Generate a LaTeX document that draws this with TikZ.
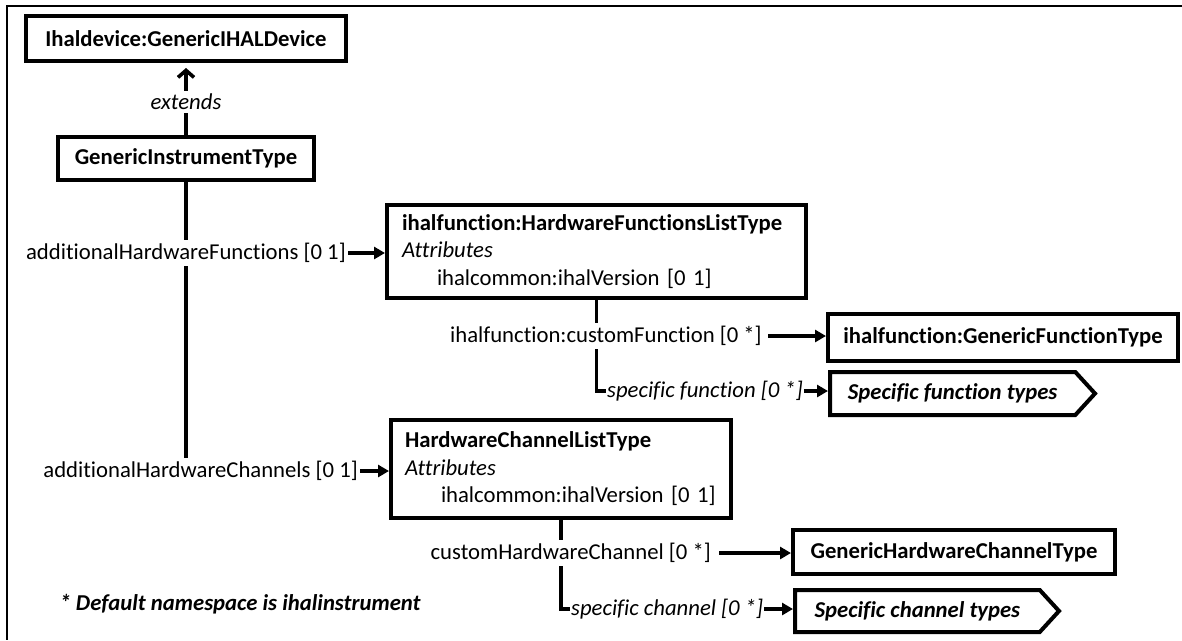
\documentclass[tikz,border=0pt]{standalone}
\usepackage{fontspec}
\setmainfont{Carlito}[Ligatures=NoCommon]
\usetikzlibrary{arrows.meta,shapes.symbols,backgrounds}
\begin{document}
\begin{tikzpicture}[x=1pt,y=-1pt,
  every node/.style={font=\fontsize{22.7}{27.5}\selectfont},
  box/.style={draw, line width=4pt, inner sep=0pt, font=\fontsize{22.7}{27.5}\selectfont\bfseries},
  listbox/.style={draw, line width=4pt, inner xsep=15pt, inner ysep=0pt, align=left},
  sig/.style={draw, line width=4pt, signal, signal to=east, signal pointer angle=95, inner sep=0pt,
    font=\fontsize{22.7}{27.5}\selectfont\bfseries\itshape},
  lbl/.style={fill=white, inner xsep=2pt, inner ysep=3pt},
  conn/.style={line width=3.6pt},
  arr/.style={conn, -{Triangle[length=11pt,width=12pt]}},
  ext/.style={conn, -{Straight Barb[length=7pt,width=16pt,line width=3.6pt]}, shorten >=5pt}
]
\useasboundingbox (0,0) rectangle (1182,640);
\draw[line width=2.8pt] (1182,6) -- (7,6) -- (7,640);

% boxes
\node[box, minimum width=320pt, minimum height=45pt] (A) at (186,38.5) {Ihaldevice:GenericIHALDevice};
\node[box, minimum width=256pt, minimum height=43pt] (B) at (186,158.5) {GenericInstrumentType};
\node[listbox, text width=389pt, minimum height=93pt] (C) at (596.5,251.5)
  {\textbf{ihalfunction:HardwareFunctionsListType}\\\textit{Attributes}\\\hspace*{35pt}\mbox{ihalcommon:ihalVersion [0 1]}};
\node[box, minimum width=350pt, minimum height=47pt] (D) at (1003,337.5) {ihalfunction:GenericFunctionType};
\node[sig, anchor=west, minimum width=265pt, minimum height=43pt] (E) at (828,393.5) {Specific function types};
\node[listbox, text width=312pt, inner xsep=14pt, minimum height=98pt] (F) at (561,469)
  {\textbf{HardwareChannelListType}\\\textit{Attributes}\\\hspace*{36pt}\mbox{ihalcommon:ihalVersion [0 1]}};
\node[box, minimum width=322pt, minimum height=44pt] (G) at (954,552) {GenericHardwareChannelType};
\node[sig, anchor=west, minimum width=264pt, minimum height=42pt] (H) at (793,611) {Specific channel types};

% labels
\node[lbl] (lext) at (186,102) {\itshape extends};
\node[lbl, anchor=east] (lF) at (348,253) {additionalHardwareFunctions [0 1]};
\node[lbl, anchor=east] (lC) at (360,471) {additionalHardwareChannels [0 1]};
\node[lbl, anchor=east] (lCF) at (764,336) {ihalfunction:customFunction [0 *]};
\node[inner sep=1pt, anchor=west] (lSF) at (606,391) {\itshape specific function [0 *]};
\node[lbl, anchor=east] (lCC) at (713,553) {customHardwareChannel [0 *]};
\node[inner sep=1pt, anchor=west] (lSC) at (570,609) {\itshape specific channel [0 *]};

\node[anchor=west, font=\fontsize{22.7}{27.5}\selectfont\bfseries\itshape] (note) at (56,604) {* Default namespace is ihalinstrument};

\begin{scope}[on background layer]
\draw[ext] (B.north) -- (A.south);
\draw[conn] (B.south) -- (B.south |- lC.north);
\draw[conn] (C.south) -- (C.south |- lSF.west) -- (lSF.west);
\draw[conn] (F.south) -- (F.south |- lSC.west) -- (lSC.west);
\end{scope}

\draw[arr] (lF.east) -- (lF.east -| C.west);
\draw[arr] (lC.east) -- (lC.east -| F.west);
\draw[arr] ([xshift=4pt]lCF.east) -- (lCF.east -| D.west);
\draw[arr] (lSF.east) -- (lSF.east -| E.west);
\draw[arr] ([xshift=6pt]lCC.east) -- (lCC.east -| G.west);
\draw[arr] (lSC.east) -- (lSC.east -| H.west);
\end{tikzpicture}
\end{document}
